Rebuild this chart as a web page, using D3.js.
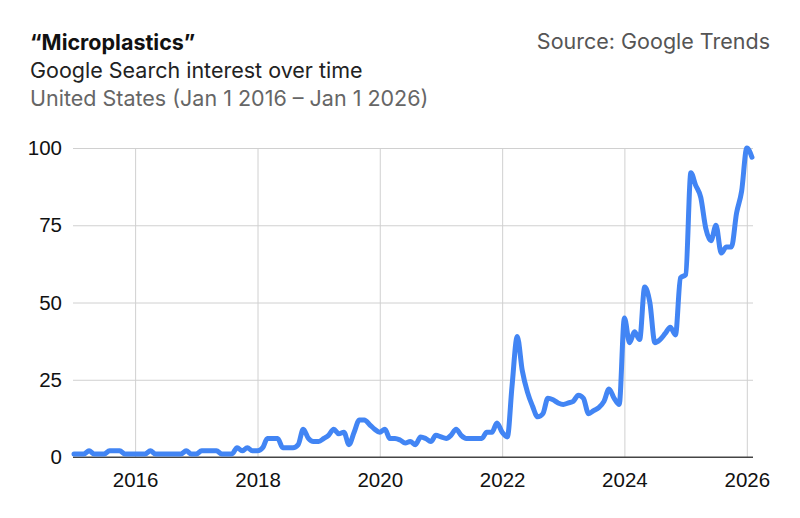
<!DOCTYPE html>
<html>
<head>
<meta charset="utf-8">
<script src="https://cdn.jsdelivr.net/npm/d3@7"></script>
<style>
    body { margin: 0; background: #fff; }
    svg { display: block; }
</style>
</head>
<body>
<div id="chart"></div>
<script>
// Monthly search interest, Jan 2015 .. Feb 2026
const firstMonth = "2015-01";
const interest = [
    1, 1, 1, 2, 1, 1, 1, 2, 2, 2, 1, 1,          // 2015
    1, 1, 1, 2, 1, 1, 1, 1, 1, 1, 2, 1,          // 2016
    1, 2, 2, 2, 2, 1, 1, 1, 3, 2, 3, 2,          // 2017
    2, 3, 6, 6, 6, 3, 3, 3, 4, 9, 6, 5,          // 2018
    5, 6, 7, 9, 7.5, 8, 4, 8, 12, 12, 10.5, 9,   // 2019
    8, 9, 6, 6, 5.5, 4.5, 5, 4, 6.5, 6, 5, 7,    // 2020
    6.5, 6, 7, 9, 7, 6, 6, 6, 6, 8, 8, 11,       // 2021
    8, 6.5, 23, 39, 28, 21, 16.5, 13, 14, 19, 18.5, 17.5, // 2022
    17, 17.5, 18, 20, 19, 14, 15, 16, 18, 22, 19, 17,     // 2023
    45, 37, 40.5, 38, 55, 50, 37, 38, 40, 42, 39.5, 58,   // 2024
    59, 92, 88, 84, 74, 70, 75, 66, 68, 68, 79, 86,       // 2025
    100, 97                                               // 2026
];
const yTicks = [0, 25, 50, 75, 100];
const xTickYears = [2016, 2018, 2020, 2022, 2024, 2026];

const titleText = "\u201cMicroplastics\u201d";
const subtitleText = "Google Search interest over time";
const regionText = "United States (Jan 1 2016 \u2013 Jan 1 2026)";
const sourceText = "Source: Google Trends";

const width = 800, height = 518;
const margin = { top: 148, right: 48, bottom: 61, left: 74 };

const parseMonth = d3.timeParse("%Y-%m");
const start = parseMonth(firstMonth);
const data = interest.map((v, i) => ({ date: d3.timeMonth.offset(start, i), value: v }));

const svg = d3.select("#chart")
    .append("svg")
    .attr("width", width)
    .attr("height", height);

const x = d3.scaleTime()
    .domain([start, d3.timeMonth.offset(start, interest.length - 1)])
    .range([margin.left, width - margin.right]);

const y = d3.scaleLinear()
    .domain([0, 100])
    .range([height - margin.bottom, margin.top]);

// Titles
const head = svg.append("g").style("font-family", "Inter, 'Noto Sans', sans-serif").style("font-size", "21.5px");
head.append("text").attr("x", 30).attr("y", 50).attr("fill", "#111").attr("font-weight", 700).text(titleText);
head.append("text").attr("x", 30).attr("y", 78).attr("fill", "#222").text(subtitleText);
head.append("text").attr("x", 30).attr("y", 106).attr("fill", "#666").text(regionText);
head.append("text").attr("x", 770).attr("y", 49).attr("fill", "#555").attr("text-anchor", "end").text(sourceText);

// Horizontal grid + y labels
const yAxis = svg.append("g")
    .attr("transform", `translate(${margin.left - 1},0)`)
    .call(d3.axisLeft(y).tickValues(yTicks).tickSize(-(width - margin.right - margin.left + 2)).tickPadding(11));
yAxis.select(".domain").remove();
yAxis.selectAll(".tick line").attr("stroke", d => d === 0 ? "#444" : "#d0d0d0").attr("stroke-width", 1);
yAxis.selectAll(".tick text")
    .attr("fill", "#111")
    .style("font-family", "'Liberation Sans', Arial, sans-serif")
    .style("font-size", "20.5px");

// Vertical grid + x labels
const xAxis = svg.append("g")
    .attr("transform", `translate(0,${height - margin.bottom})`)
    .call(d3.axisBottom(x)
        .tickValues(xTickYears.map(yr => new Date(yr, 0, 1)))
        .tickFormat(d3.timeFormat("%Y"))
        .tickSize(-(height - margin.bottom - margin.top))
        .tickPadding(15));
xAxis.select(".domain").remove();
xAxis.selectAll(".tick line").attr("stroke", "#d0d0d0");
xAxis.selectAll(".tick text")
    .attr("fill", "#111")
    .style("font-family", "'Liberation Sans', Arial, sans-serif")
    .style("font-size", "20.5px");

// bring baseline back on top of vertical grid
svg.append("line")
    .attr("x1", margin.left - 1).attr("x2", width - margin.right + 1)
    .attr("y1", y(0)).attr("y2", y(0))
    .attr("stroke", "#444");

// Line
svg.append("path")
    .datum(data)
    .attr("fill", "none")
    .attr("stroke", "#4285f4")
    .attr("stroke-width", 5)
    .attr("stroke-linejoin", "round")
    .attr("stroke-linecap", "round")
    .attr("d", d3.line()
        .x(d => x(d.date))
        .y(d => y(d.value))
        .curve(d3.curveMonotoneX));
</script>
</body>
</html>
